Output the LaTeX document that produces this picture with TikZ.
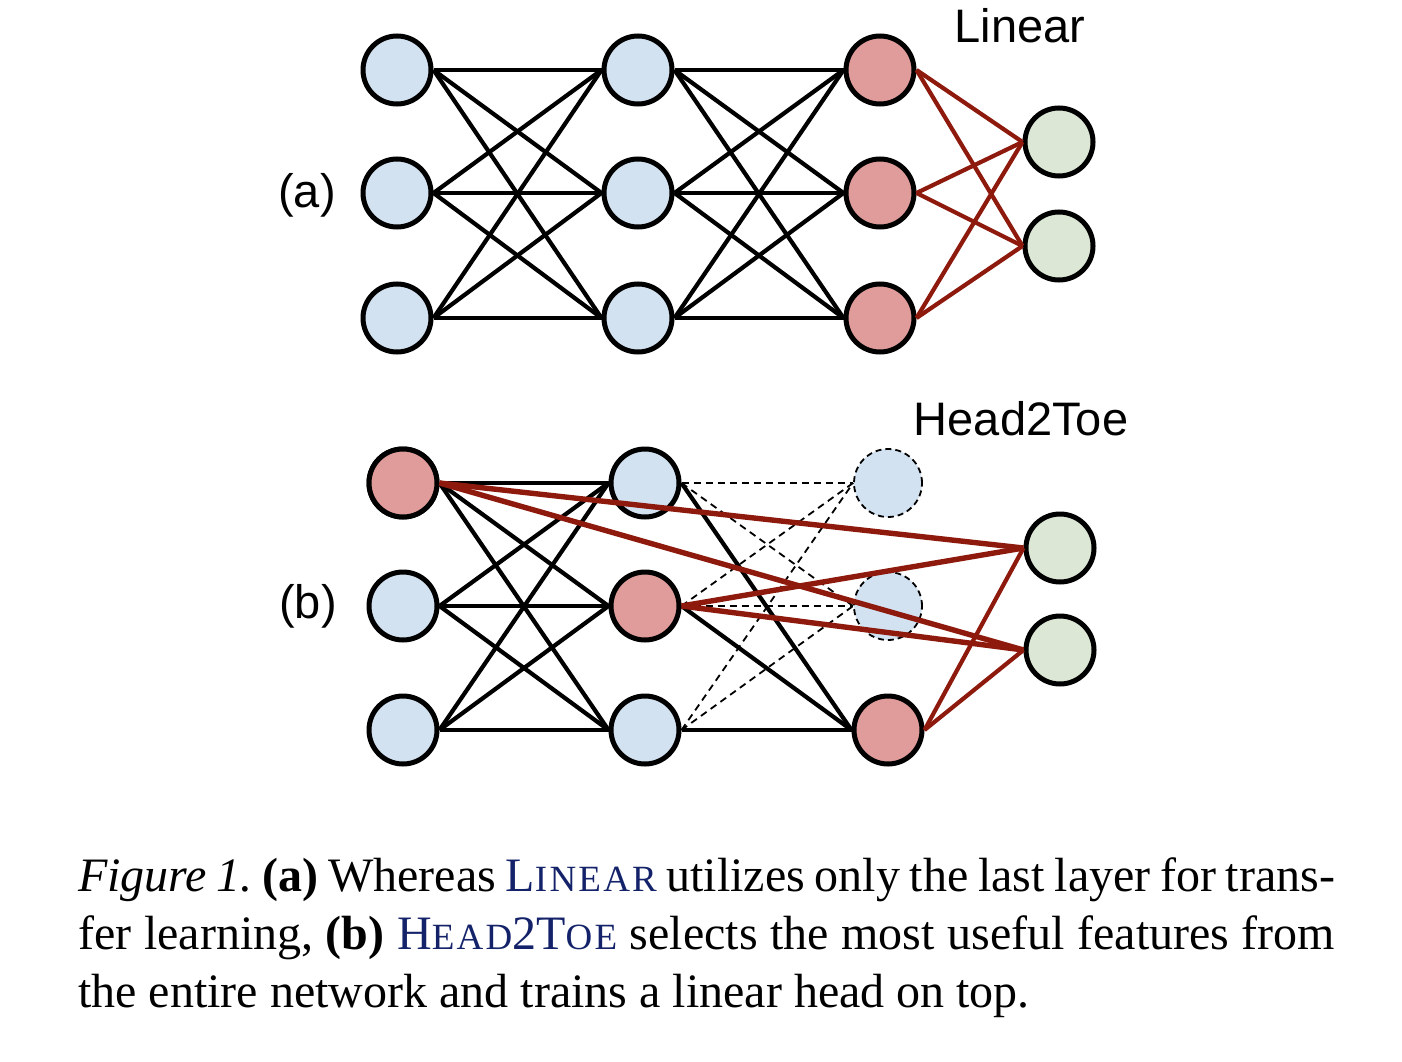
\documentclass[tikz,border=0pt]{standalone}
\usepackage{fontspec}
\setmainfont{Liberation Serif}
\newfontfamily\labelfont{Liberation Sans}
\definecolor{unitblue}{HTML}{D3E2F1}
\definecolor{unitred}{HTML}{E09C9B}
\definecolor{unitgreen}{HTML}{DCE8D5}
\definecolor{headred}{HTML}{8E1A0E}
\definecolor{capblue}{HTML}{14226A}
\newcommand{\fakesc}[1]{{\fontsize{37}{58}\selectfont\addfontfeature{LetterSpace=6}#1}}
\tikzset{
  unit/.style={circle,draw=black,line width=5pt,minimum size=68pt,inner sep=0pt},
  ghost/.style={unit,line width=1.8pt,dash pattern=on 6pt off 4pt,fill=unitblue},
  edge/.style={line width=4.2pt},
  dashedge/.style={line width=1.8pt,dash pattern=on 7pt off 5pt},
  redge/.style={line width=4.2pt,draw=headred},
  longredge/.style={line width=5.4pt,draw=headred},
  lab/.style={font=\labelfont\fontsize{47}{56}\selectfont,inner sep=0pt},
}
\begin{document}
\begin{tikzpicture}[x=1pt,y=-1pt]
        \useasboundingbox (0,0) rectangle (1402,1062);
        % (a) linear probe on the last layer
        \foreach \i/\y in {1/70,2/193,3/318}{
          \node[unit,fill=unitblue] (a1\i) at (397,\y) {};
          \node[unit,fill=unitblue] (a2\i) at (638,\y) {};
          \node[unit,fill=unitred] (a3\i) at (880,\y) {};}
        \foreach \i/\y in {1/142,2/246}{
          \node[unit,fill=unitgreen] (ag\i) at (1059,\y) {};}
        \foreach \i in {1,2,3}{
          \foreach \j in {1,2,3}{
            \draw[edge] (a1\i.east) -- (a2\j.west);
            \draw[edge] (a2\i.east) -- (a3\j.west);}
          \foreach \j in {1,2}{
            \draw[redge] (a3\i.east) -- (ag\j.west);}}
        \node[lab] (linear) at (1020,26) {Linear};
        \node[lab] (taga) at (307,195) {(a)};
        % (b) head2toe
        \foreach \i/\y in {1/483,2/606,3/730}{
          \node[unit,fill=unitblue] (b1\i) at (403,\y) {};}
        \node[unit,fill=unitred] (b11) at (403,483) {};
        \node[unit,fill=unitblue] (b21) at (645,483) {};
        \node[unit,fill=unitred] (b22) at (645,606) {};
        \node[unit,fill=unitblue] (b23) at (645,730) {};
        \node[ghost] (b31) at (888,483) {};
        \node[ghost] (b32) at (888,606) {};
        \node[unit,fill=unitred] (b33) at (888,730) {};
        \foreach \i/\y in {1/548,2/650}{
          \node[unit,fill=unitgreen] (bg\i) at (1060,\y) {};}
        \foreach \i in {1,2,3}{
          \foreach \j in {1,2,3}{
            \draw[edge] (b1\i.east) -- (b2\j.west);}
          \draw[dashedge] (b2\i.east) -- (b31.west);
          \draw[dashedge] (b2\i.east) -- (b32.west);
          \draw[edge] (b2\i.east) -- (b33.west);}
        \foreach \j in {1,2}{
          \draw[longredge] (b11.east) -- (bg\j.west);
          \draw[longredge] (b22.east) -- (bg\j.west);
          \draw[redge] (b33.east) -- (bg\j.west);}
        \node[lab] (h2t) at (1021,419) {Head2Toe};
        \node[lab] (tagb) at (308,606) {(b)};
        % caption
        \node[anchor=north west,inner sep=0pt,text width=1257pt,align=justify,
          font=\fontsize{48}{58}\selectfont\frenchspacing] (caption) at (78,857)
          {\textit{Figure 1.} \textbf{(a)} Whereas \textcolor{capblue}{L\fakesc{INEAR}} utilizes only the last layer for trans-\linebreak
           fer learning, \textbf{(b)} \textcolor{capblue}{H\fakesc{EAD}2T\fakesc{OE}} selects the most useful features from\linebreak
           the entire network and trains a linear head on top.};
\end{tikzpicture}
\end{document}
